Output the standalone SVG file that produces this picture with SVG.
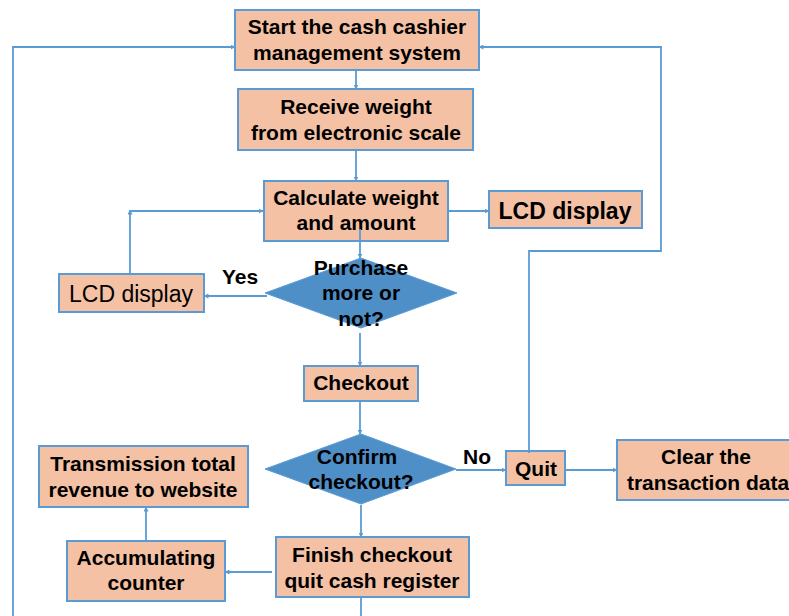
<svg xmlns="http://www.w3.org/2000/svg" width="789" height="616" viewBox="0 0 789 616">
<style>
.box{fill:#F4C1A4;stroke:#5B9BD5;stroke-width:2}
.dia{fill:#4F8FC8;stroke:#5B9BD5;stroke-width:1}
.t{font-family:"Liberation Sans",Arial,sans-serif;font-weight:bold;font-size:21px;fill:#000;text-anchor:middle}
.r{font-weight:normal;font-size:23px}
.big{font-size:23px}
.c{fill:none;stroke:#5B9BD5;stroke-width:1.8}
</style>
<defs>
<marker id="ah" viewBox="0 0 10 10" refX="9" refY="5" markerWidth="5" markerHeight="5" orient="auto" markerUnits="userSpaceOnUse">
<path d="M0,0 L10,5 L0,10 z" fill="#5B9BD5"/>
</marker>
</defs>
<rect width="789" height="616" fill="#fff"/>
<g id="start"><rect class="box" x="235" y="10" width="244" height="60"/><text class="t" x="357" y="34">Start the cash cashier</text><text class="t" x="357" y="60">management system</text></g>
<g id="receive"><rect class="box" x="238" y="89" width="235" height="61"/><text class="t" x="356" y="114">Receive weight</text><text class="t" x="356" y="140">from electronic scale</text></g>
<g id="calc"><rect class="box" x="264" y="181" width="184" height="60"/><text class="t" x="356" y="205">Calculate weight</text><text class="t" x="356" y="230">and amount</text></g>
<g id="lcd-right"><rect class="box" x="489" y="191" width="153" height="37"/><text class="t big" x="565" y="219">LCD display</text></g>
<g id="purchase"><polygon class="dia" points="361,258 457,293 361,328 265,293"/><text class="t" x="361" y="275">Purchase</text><text class="t" x="361" y="300">more or</text><text class="t" x="361" y="326">not?</text></g>
<g id="lcd-left"><rect class="box" x="59" y="274" width="145" height="38"/><text class="t r" x="131" y="302">LCD display</text></g>
<g id="checkout"><rect class="box" x="304" y="366" width="114" height="35"/><text class="t" x="361" y="390">Checkout</text></g>
<g id="confirm"><polygon class="dia" points="361,434 456,469 361,504 265,469"/><text class="t" x="357" y="464">Confirm</text><text class="t" x="361" y="489">checkout?</text></g>
<g id="quit"><rect class="box" x="506" y="451" width="59" height="34"/><text class="t" x="536" y="476">Quit</text></g>
<g id="clear"><rect class="box" x="617" y="440" width="190" height="60"/><text class="t" x="706" y="464">Clear the</text><text class="t" x="708" y="490">transaction data</text></g>
<g id="transmission"><rect class="box" x="39" y="446" width="209" height="61"/><text class="t" x="143" y="471">Transmission total</text><text class="t" x="143" y="497">revenue to website</text></g>
<g id="accumulating"><rect class="box" x="67" y="541" width="158" height="60"/><text class="t" x="146" y="565">Accumulating</text><text class="t" x="146" y="590">counter</text></g>
<g id="finish"><rect class="box" x="276" y="537" width="193" height="60"/><text class="t" x="372" y="562">Finish checkout</text><text class="t" x="372" y="588">quit cash register</text></g>
<g id="labels"><text class="t" x="240" y="284">Yes</text><text class="t" x="477" y="464">No</text></g>
<g id="connectors">
<line class="c" x1="356" y1="70" x2="356" y2="89" marker-end="url(#ah)"/>
<line class="c" x1="356" y1="150" x2="356" y2="181" marker-end="url(#ah)"/>
<line class="c" x1="448" y1="211" x2="489" y2="211" marker-end="url(#ah)"/>
<line class="c" x1="360" y1="229" x2="360" y2="258" marker-end="url(#ah)"/>
<polyline class="c" points="267,296 204,296" marker-end="url(#ah)"/>
<line class="c" x1="130" y1="274" x2="130" y2="210" marker-end="url(#ah)"/>
<line class="c" x1="130" y1="211" x2="263" y2="211" marker-end="url(#ah)"/>
<line class="c" x1="360" y1="333" x2="360" y2="366" marker-end="url(#ah)"/>
<line class="c" x1="360" y1="401" x2="360" y2="434" marker-end="url(#ah)"/>
<line class="c" x1="456" y1="470" x2="506" y2="470" marker-end="url(#ah)"/>
<line class="c" x1="565" y1="470" x2="617" y2="470" marker-end="url(#ah)"/>
<polyline class="c" points="529,453 529,251 661,251 661,47 479,47" marker-end="url(#ah)"/>
<line class="c" x1="361" y1="505" x2="361" y2="537" marker-end="url(#ah)"/>
<line class="c" x1="272" y1="572" x2="225" y2="572" marker-end="url(#ah)"/>
<line class="c" x1="146" y1="541" x2="146" y2="507" marker-end="url(#ah)"/>
<polyline class="c" points="361,597 361,640 13,640 13,47 235,47" marker-end="url(#ah)"/>
</g>
</svg>
